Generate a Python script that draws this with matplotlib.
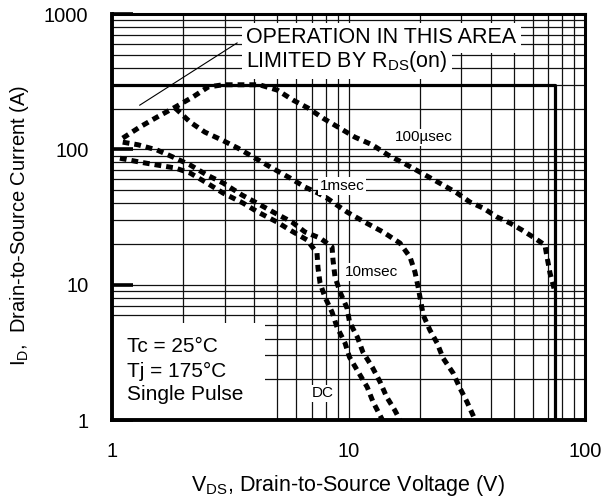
import matplotlib
matplotlib.use('Agg')
import matplotlib.pyplot as plt
from matplotlib.patches import Rectangle
from matplotlib.ticker import LogLocator, NullFormatter

plt.rcParams['font.family'] = ['Liberation Sans', 'DejaVu Sans']
plt.rcParams['mathtext.fontset'] = 'custom'
plt.rcParams['mathtext.rm'] = 'Liberation Sans'
plt.rcParams['mathtext.it'] = 'Liberation Sans:italic'

# ---- data (V, A) ----
v_100us = [1.11, 1.31, 1.55, 1.85, 2.20, 2.55, 2.95, 4.2, 5.0, 5.83, 6.74, 7.8, 9.03,
           10.65, 12.6, 14.7, 17.7, 21.1, 25.1, 28.8, 32.6, 37.1, 42.5, 48.2, 54.2,
           60.3, 67.7, 69.1, 71.1, 74.7]
i_100us = [121, 146, 173, 205, 244, 289, 300, 300, 274, 231, 202, 170, 146,
           123, 108, 90.8, 76.6, 64.6, 54.5, 47.5, 40.8, 36.8, 31.6, 28.5, 25.3,
           22.5, 19.6, 16.0, 12.2, 8.8]

v_1ms = [1.85, 2.14, 2.47, 2.92, 3.41, 4.02, 4.75, 5.66, 6.55, 7.43, 8.11, 8.94, 9.86,
         11.7, 14.0, 16.5, 18.2, 19.1, 19.7, 20.7, 22.1, 23.7, 25.1, 27.7, 29.6, 31.7, 34.5]
i_1ms = [202, 159, 134, 117, 102, 86.3, 72.8, 61.4, 52.6, 47.5, 43.6, 38.7, 34.4,
         29.0, 24.5, 20.3, 16.0, 12.4, 9.6, 5.96, 4.61, 3.70, 2.87, 2.22, 1.72, 1.36, 0.98]

v_10ms = [1.11, 1.29, 1.55, 1.81, 2.14, 2.52, 2.95, 3.55, 4.10, 4.89, 5.77, 6.55, 7.58,
          8.52, 8.60, 8.77, 9.21, 9.86, 10.1, 10.9, 11.5, 12.6, 13.6, 14.5, 15.7, 16.6]
i_10ms = [113, 108, 98.9, 87.7, 76.6, 64.6, 56.4, 45.9, 40.1, 33.8, 29.0, 24.5, 22.1,
          19.0, 15.2, 11.4, 8.82, 6.71, 5.3, 4.10, 3.18, 2.46, 1.91, 1.48, 1.18, 0.98]

v_dc = [1.08, 1.31, 1.55, 1.85, 2.14, 2.52, 2.95, 3.58, 4.14, 4.99, 5.66, 6.68, 7.36,
        7.43, 7.58, 7.95, 8.52, 8.94, 9.67, 10.1, 11.0, 12.0, 12.7, 14.0]
i_dc = [86, 80.5, 76.6, 72.8, 66.8, 56.4, 47.5, 40.1, 34.4, 29.0, 25.3, 21.4, 17.1,
        13.3, 10.3, 8.09, 6.27, 4.86, 3.70, 2.91, 2.26, 1.75, 1.36, 0.98]

limit_v = [1, 75, 75]
limit_i = [300, 300, 1]

curve_labels = ['100µsec', '1msec', '10msec', 'DC']
x_ticks = [1, 10, 100]
y_ticks = [1, 10, 100, 1000]

# ---- figure ----
fig = plt.figure(figsize=(6.04, 5.01), dpi=100)
ax = fig.add_axes([112/604, 1-420/501, (585-112)/604, (420-14)/501])
ax.set_xscale('log')
ax.set_yscale('log')
ax.set_xlim(1, 100)
ax.set_ylim(1, 1000)

ax.set_axisbelow(True)
ax.xaxis.set_minor_locator(LogLocator(base=10, subs=range(2, 10)))
ax.yaxis.set_minor_locator(LogLocator(base=10, subs=range(2, 10)))
ax.xaxis.set_minor_formatter(NullFormatter())
ax.yaxis.set_minor_formatter(NullFormatter())
ax.grid(which='both', color='#111111', lw=0.9)

ax.set_xticks(x_ticks)
ax.set_xticklabels([str(t) for t in x_ticks])
ax.set_yticks(y_ticks)
ax.set_yticklabels([str(t) for t in y_ticks])
ax.tick_params(axis='x', which='major', length=0, pad=16, labelsize=14.5)
ax.tick_params(axis='y', which='major', direction='in', length=15, width=2.6,
               pad=17, labelsize=14.5, color='black')
ax.tick_params(which='minor', length=0)

for side in ['left', 'bottom']:
    ax.spines[side].set_linewidth(2.8)
for side in ['top', 'right']:
    ax.spines[side].set_linewidth(2.2)
for s in ax.spines.values():
    s.set_zorder(6)

# white box behind the conditions text
ax.add_patch(Rectangle((1, 1), 4.43 - 1, 5.2 - 1, facecolor='white',
                       edgecolor='none', zorder=1.5))

# limit lines
ax.plot(limit_v, limit_i, color='black', lw=2.3, zorder=2.5, solid_capstyle='butt')

# curves
curve_style = dict(color='black', lw=3.6, zorder=3, dash_capstyle='butt')
for vs, cs in [(v_100us, i_100us), (v_1ms, i_1ms), (v_10ms, i_10ms), (v_dc, i_dc)]:
    ln, = ax.plot(vs, cs, **curve_style)
    ln.set_dashes((1.35, 1.0))

# curve labels
lab_box = dict(boxstyle='square,pad=0.1', facecolor='white', edgecolor='none')
label_pos = [(20.9, 123), (9.39, 53.6), (12.45, 12.4), (7.8, 1.58)]
for txt, (lx, ly) in zip(curve_labels, label_pos):
    ax.text(lx, ly, txt, fontsize=11, ha='center', va='center', bbox=lab_box, zorder=5)

# operation area annotation
ann_box = dict(boxstyle='square,pad=0.2', facecolor='white', edgecolor='none')
ax.text(3.69, 665, 'OPERATION IN THIS AREA', fontsize=15.5, ha='left', va='center',
        bbox=ann_box, zorder=5)
ax.text(3.69, 442, r'LIMITED BY R$_{\mathrm{DS}}$(on)', fontsize=15.5, ha='left',
        va='center', bbox=ann_box, zorder=5)
ax.plot([1.31, 3.38], [212, 611], color='black', lw=0.8, zorder=4)

# conditions
cond = ['Tc = 25°C', 'Tj = 175°C', 'Single Pulse']
for k, line in enumerate(cond):
    fig.text(127/604, 1 - (347 + 24*k)/501, line, fontsize=15, ha='left', va='center')

# axis labels
fig.text(348/604, 1 - 486/501, r'V$_{\mathrm{DS}}$, Drain-to-Source Voltage (V)',
         fontsize=15.5, ha='center', va='center')
fig.text(20/604, 1 - 225/501, r'I$_{\mathrm{D}}$,  Drain-to-Source Current (A)',
         fontsize=14.5, ha='center', va='center', rotation=90)

fig.savefig('out.png', dpi=100)
